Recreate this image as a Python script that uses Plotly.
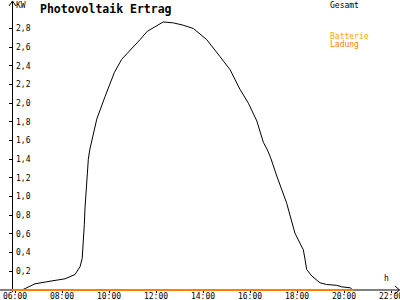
import plotly.graph_objects as go

# ---- data ----
pv_hours = [6.30, 6.85, 7.49, 8.13, 8.55, 8.77, 8.86, 8.91, 8.95, 8.98, 9.02, 9.06, 9.12, 9.18,
            9.26, 9.48, 9.83, 10.23, 10.54, 10.92, 11.32, 11.63, 12.10, 12.31, 12.74, 13.16,
            13.59, 14.16, 14.72, 15.15, 15.57, 15.93, 16.29, 16.57, 16.74, 16.88, 17.14, 17.56,
            17.91, 18.13, 18.27, 18.34, 18.41, 18.63, 18.98, 19.26, 19.69, 19.90, 20.26, 20.38]
pv_kw = [0.00, 0.066, 0.094, 0.12, 0.166, 0.25, 0.34, 0.50, 0.70, 0.88, 1.05, 1.25, 1.40, 1.50,
         1.58, 1.83, 2.07, 2.33, 2.47, 2.57, 2.68, 2.77, 2.84, 2.87, 2.86, 2.835,
         2.80, 2.68, 2.50, 2.36, 2.15, 2.00, 1.81, 1.58, 1.50, 1.415, 1.22, 0.93,
         0.61, 0.505, 0.43, 0.33, 0.22, 0.15, 0.077, 0.059, 0.05, 0.034, 0.024, 0.0]

batt_hours = [5.87, 20.40]
batt_kw = [0.0, 0.0]

x_tickvals = [6, 8, 10, 12, 14, 16, 18, 20, 22]
x_ticktext = ["06:00", "08:00", "10:00", "12:00", "14:00", "16:00", "18:00", "20:00", "22:00"]
y_tickvals = [0.2, 0.4, 0.6, 0.8, 1.0, 1.2, 1.4, 1.6, 1.8, 2.0, 2.2, 2.4, 2.6, 2.8]
y_ticktext = ["0,2", "0,4", "0,6", "0,8", "1,0", "1,2", "1,4", "1,6", "1,8", "2,0",
              "2,2", "2,4", "2,6", "2,8"]

W, H = 400, 300
AXIS_Y = 290      # pixel row of the x axis
AXIS_X = 12       # pixel column of the y axis
PX_PER_H = 23.5
PX_PER_KW = 93.4

def px(x):
    return x / W

def py(y):
    return (H - y) / H

FONT = "DejaVu Sans Mono"

fig = go.Figure()
fig.add_trace(go.Scatter(x=pv_hours, y=pv_kw, mode="lines",
                         line=dict(color="black", width=1), name="Gesamt"))
fig.add_trace(go.Scatter(x=batt_hours, y=batt_kw, mode="lines",
                         line=dict(color="#FF8000", width=2), name="Batterie Ladung"))

x0 = 6 - 15 / PX_PER_H
x1 = 6 + (W - 15) / PX_PER_H
y0 = -(H - AXIS_Y) / PX_PER_KW
y1 = AXIS_Y / PX_PER_KW

fig.update_layout(
    width=W, height=H,
    margin=dict(l=0, r=0, t=0, b=0, pad=0, autoexpand=False),
    paper_bgcolor="white", plot_bgcolor="white",
    showlegend=False,
    font=dict(family=FONT, size=8, color="black"),
    xaxis=dict(range=[x0, x1], showgrid=False, zeroline=False, showline=False,
               anchor="free", position=(H - AXIS_Y) / H,
               ticks="outside", ticklen=2, ticklabelstandoff=-4,
               tickcolor="black", tickwidth=1, tickvals=x_tickvals, ticktext=x_ticktext,
               tickfont=dict(family=FONT, size=8, color="black"), automargin=False,
               ticklabeloverflow="allow", layer="below traces"),
    yaxis=dict(range=[y0, y1], showgrid=False, zeroline=False, showline=False,
               anchor="free", position=AXIS_X / W,
               ticks="outside", ticklen=3, tickcolor="black", tickwidth=1,
               tickvals=y_tickvals, ticktext=y_ticktext, ticklabelposition="inside",
               tickfont=dict(family=FONT, size=8, color="black"), automargin=False,
               ticklabeloverflow="allow", layer="below traces"),
)

shapes = []
# axis lines
shapes.append(dict(type="line", xref="paper", yref="paper", layer="below",
                   x0=px(0), x1=px(399.5), y0=py(AXIS_Y), y1=py(AXIS_Y),
                   line=dict(color="black", width=1)))
shapes.append(dict(type="line", xref="paper", yref="paper", layer="below",
                   x0=px(AXIS_X + 0.5), x1=px(AXIS_X + 0.5), y0=py(1), y1=py(292),
                   line=dict(color="black", width=1)))
# y-axis arrow head
shapes.append(dict(type="path", xref="paper", yref="paper",
                   path=f"M {px(9)} {py(6)} L {px(12.5)} {py(1)} L {px(16)} {py(6)}",
                   line=dict(color="black", width=1)))
# x-axis arrow head
shapes.append(dict(type="path", xref="paper", yref="paper",
                   path=f"M {px(395)} {py(286)} L {px(399.5)} {py(290)} L {px(395)} {py(294)}",
                   line=dict(color="black", width=1)))
fig.update_layout(shapes=shapes)

ann = [
    dict(text="<b>Photovoltaik Ertrag</b>", x=px(39), y=py(1), xanchor="left", yanchor="top",
         font=dict(family=FONT, size=11.5, color="black")),
    dict(text="KW", x=px(15), y=py(0), xanchor="left", yanchor="top",
         font=dict(family=FONT, size=8, color="black")),
    dict(text="Gesamt", x=px(329), y=py(0), xanchor="left", yanchor="top",
         font=dict(family=FONT, size=8, color="black")),
    dict(text="Batterie", x=px(329), y=py(31), xanchor="left", yanchor="top",
         font=dict(family=FONT, size=8, color="#FFA500")),
    dict(text="Ladung", x=px(329), y=py(39), xanchor="left", yanchor="top",
         font=dict(family=FONT, size=8, color="#FF8000")),
    dict(text="h", x=px(386.5), y=py(284), xanchor="center", yanchor="bottom",
         font=dict(family=FONT, size=8, color="black")),
]
for a in ann:
    a.update(xref="paper", yref="paper", showarrow=False, borderpad=0)
fig.update_layout(annotations=ann)

fig.write_html("out.html")
